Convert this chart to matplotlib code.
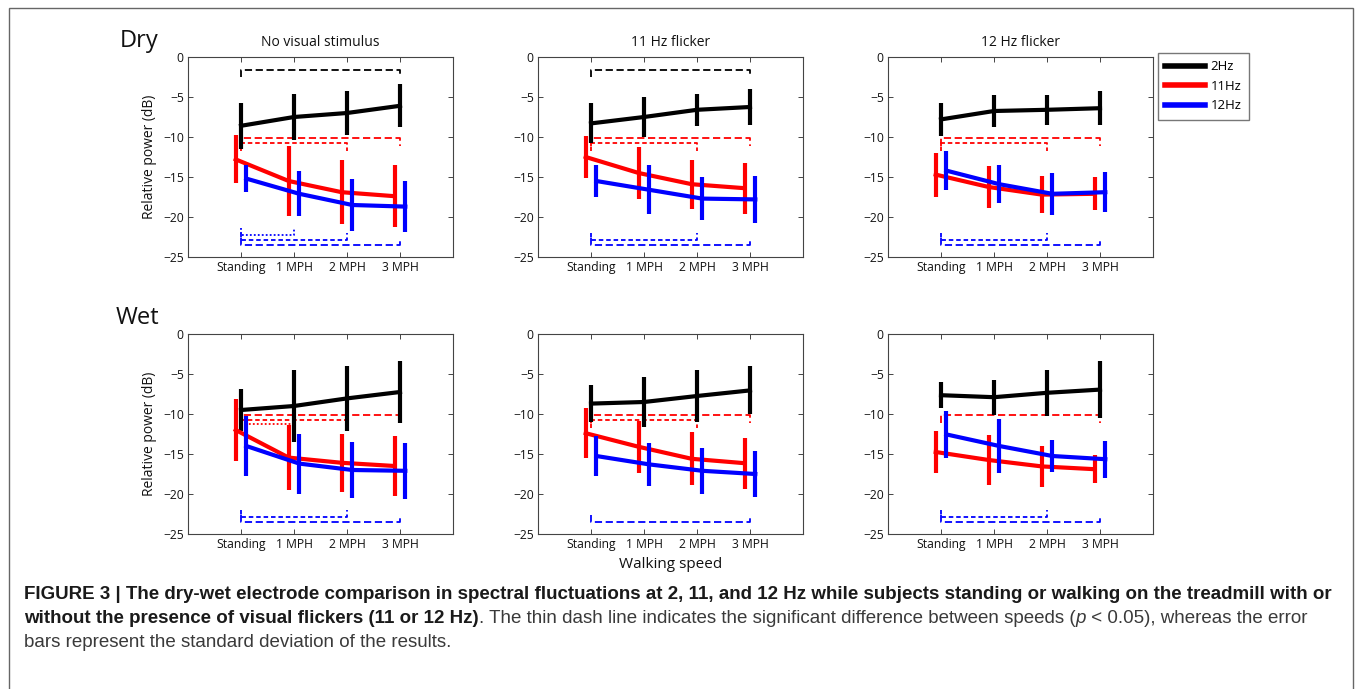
import matplotlib
matplotlib.use('Agg')
import numpy as np
import matplotlib.pyplot as plt
from matplotlib.lines import Line2D
from matplotlib.patches import Rectangle

plt.rcParams['font.family'] = ['Open Sans', 'DejaVu Sans']

speeds = ['Standing', '1 MPH', '2 MPH', '3 MPH']
conditions = ['No visual stimulus', '11 Hz flicker', '12 Hz flicker']
electrodes = ['Dry', 'Wet']
bands = ['2Hz', '11Hz', '12Hz']

# mean relative power (dB) per band (2, 11, 12 Hz) over the four speeds
dry_none_mean = [[-8.6, -7.5, -7.0, -6.1],
                 [-12.8, -15.5, -16.9, -17.4],
                 [-15.2, -17.1, -18.5, -18.7]]
dry_none_sd = [[2.85, 2.9, 2.8, 2.7],
               [3.0, 4.4, 4.0, 3.9],
               [1.65, 2.8, 3.2, 3.2]]
dry_11_mean = [[-8.3, -7.5, -6.6, -6.25],
               [-12.5, -14.5, -15.9, -16.4],
               [-15.5, -16.6, -17.7, -17.8]]
dry_11_sd = [[2.5, 2.45, 2.0, 2.3],
             [2.65, 3.2, 3.05, 3.2],
             [1.95, 3.05, 2.7, 2.95]]
dry_12_mean = [[-7.8, -6.75, -6.6, -6.4],
               [-14.7, -16.25, -17.2, -17.1],
               [-14.2, -15.9, -17.1, -16.9]]
dry_12_sd = [[2.1, 2.0, 1.9, 2.1],
             [2.75, 2.65, 2.3, 2.05],
             [2.45, 2.35, 2.6, 2.5]]
wet_none_mean = [[-9.5, -9.0, -8.05, -7.25],
                 [-12.0, -15.45, -16.1, -16.5],
                 [-14.0, -16.2, -17.0, -17.1]]
wet_none_sd = [[2.6, 4.5, 4.05, 3.85],
               [3.9, 4.1, 3.65, 3.8],
               [3.7, 3.75, 3.5, 3.5]]
wet_11_mean = [[-8.7, -8.5, -7.75, -7.05],
               [-12.4, -14.1, -15.6, -16.15],
               [-15.25, -16.3, -17.1, -17.5]]
wet_11_sd = [[2.35, 3.1, 3.2, 3.0],
             [3.1, 3.25, 3.3, 3.2],
             [2.5, 2.65, 2.85, 2.85]]
wet_12_mean = [[-7.65, -7.9, -7.35, -6.95],
               [-14.75, -15.75, -16.55, -16.9],
               [-12.55, -14.0, -15.25, -15.65]]
wet_12_sd = [[1.6, 2.2, 2.85, 3.6],
             [2.65, 3.15, 2.6, 1.75],
             [2.95, 3.4, 2.0, 2.3]]

# significant pairs (speed index from, to) per band
dry_none_sig = [[(0, 3)], [(0, 3), (0, 2)], [(0, 3), (0, 2), (0, 1)]]
dry_11_sig = [[(0, 3)], [(0, 3), (0, 2)], [(0, 3), (0, 2)]]
dry_12_sig = [[], [(0, 3), (0, 2)], [(0, 3), (0, 2)]]
wet_none_sig = [[], [(0, 3), (0, 2), (0, 1)], [(0, 3), (0, 2)]]
wet_11_sig = [[], [(0, 3), (0, 2)], [(0, 3)]]
wet_12_sig = [[], [(0, 3)], [(0, 3), (0, 2)]]

panels = [[(dry_none_mean, dry_none_sd, dry_none_sig),
           (dry_11_mean, dry_11_sd, dry_11_sig),
           (dry_12_mean, dry_12_sd, dry_12_sig)],
          [(wet_none_mean, wet_none_sd, wet_none_sig),
           (wet_11_mean, wet_11_sd, wet_11_sig),
           (wet_12_mean, wet_12_sd, wet_12_sig)]]

colors = ['black', '#ff0000', '#0000ff']
offsets = [0.0, -0.1, 0.1]
dash_styles = [(0, (4, 2)), (0, (2.5, 1.6)), (0, (1, 1.2))]

W, H = 1355, 689
fig = plt.figure(figsize=(W / 100, H / 100), dpi=100)


def fx(px):
    return px / W


def fy(py):
    return 1 - py / H


col_left = [188, 538, 888]
row_top = [57, 334]
ax_w, ax_h = 265, 200
spine_c = '#444444'

for r in range(2):
    for c in range(3):
        means, sds, sig = panels[r][c]
        ax = fig.add_axes([fx(col_left[c]), fy(row_top[r] + ax_h), ax_w / W, ax_h / H])
        x0 = np.arange(1, 5)
        for b in range(3):
            x = x0 + offsets[b]
            m = np.array(means[b])
            s = np.array(sds[b])
            ax.errorbar(x, m, yerr=s, color=colors[b], lw=3.0, elinewidth=3.0,
                        capsize=0, zorder=3 + b)
            # significance brackets
            for k, (i, j) in enumerate(sig[b]):
                if b == 0:
                    y, leg = -1.6, -2.5
                elif b == 1:
                    y = -10.1 - 0.6 * k
                    leg = y - 1.0
                else:
                    y = -23.5 + 0.6 * k
                    leg = y + 0.9
                xa, xb = x0[i], x0[j]
                ax.plot([xa, xa, xb, xb], [leg, y, y, leg], color=colors[b],
                        lw=1.3, ls=dash_styles[k], zorder=2)
        ax.set_xlim(0, 5)
        ax.set_ylim(-25, 0)
        ax.set_xticks(x0, speeds)
        ax.set_yticks(range(-25, 1, 5))
        ax.tick_params(direction='in', top=True, right=True, length=3.5, width=0.7,
                       colors=spine_c, labelcolor='#111111', labelsize=8.7, pad=3)
        for sp in ax.spines.values():
            sp.set_color(spine_c)
            sp.set_linewidth(0.8)
        if r == 0:
            ax.set_title(conditions[c], fontsize=10, pad=8, color='#111111')
        if c == 0:
            ax.set_ylabel('Relative power (dB)', fontsize=10, labelpad=4, color='#111111')
        if r == 1 and c == 1:
            ax.set_xlabel('Walking speed', fontsize=11, labelpad=4, color='#111111')

fig.text(fx(120), fy(47), electrodes[0], fontsize=17, color='#111111', va='baseline')
fig.text(fx(116), fy(324), electrodes[1], fontsize=17, color='#111111', va='baseline')

handles = [Line2D([], [], color=colors[b], lw=4) for b in range(3)]
fig.legend(handles, bands, loc='upper left', bbox_to_anchor=(fx(1158), fy(53)),
           frameon=True, fancybox=False, edgecolor='#555555', fontsize=9.5,
           handlelength=3.0, borderpad=0.55, labelspacing=0.5, handletextpad=0.45,
           borderaxespad=0)

# outer frame
fig.add_artist(Rectangle((fx(9), -0.1), fx(1353) - fx(9), fy(8) + 0.1,
                         transform=fig.transFigure, fill=False,
                         edgecolor='#666666', lw=1.0, clip_on=False))

# caption
cap_font = 'Liberation Sans'
line1 = ('FIGURE 3 | The dry-wet electrode comparison in spectral fluctuations at 2, 11, '
         'and 12 Hz while subjects standing or walking on the treadmill with or')
lines = [
    [(line1, 'bold', 'normal')],
    [('without the presence of visual flickers (11 or 12 Hz)', 'bold', 'normal'),
     ('. The thin dash line indicates the significant difference between speeds (', 'normal', 'normal'),
     ('p', 'normal', 'italic'),
     (' < 0.05), whereas the error', 'normal', 'normal')],
    [('bars represent the standard deviation of the results.', 'normal', 'normal')],
]
line_px = [599, 623, 647]

probe = fig.text(0, 0, line1, fontsize=11, fontweight='bold', family=cap_font)
fig.canvas.draw()
renderer = fig.canvas.get_renderer()
cap_fs = 11 * 1316 / probe.get_window_extent(renderer).width
probe.remove()

for li, pieces in enumerate(lines):
    xpix = 24
    for txt, wt, st in pieces:
        col = '#1a1a1a' if wt == 'bold' else '#3a3a3a'
        t = fig.text(fx(xpix), fy(line_px[li]), txt, fontsize=cap_fs, fontweight=wt,
                     fontstyle=st, family=cap_font, color=col, va='baseline')
        xpix += t.get_window_extent(renderer).width

fig.savefig('out.png', dpi=100)
